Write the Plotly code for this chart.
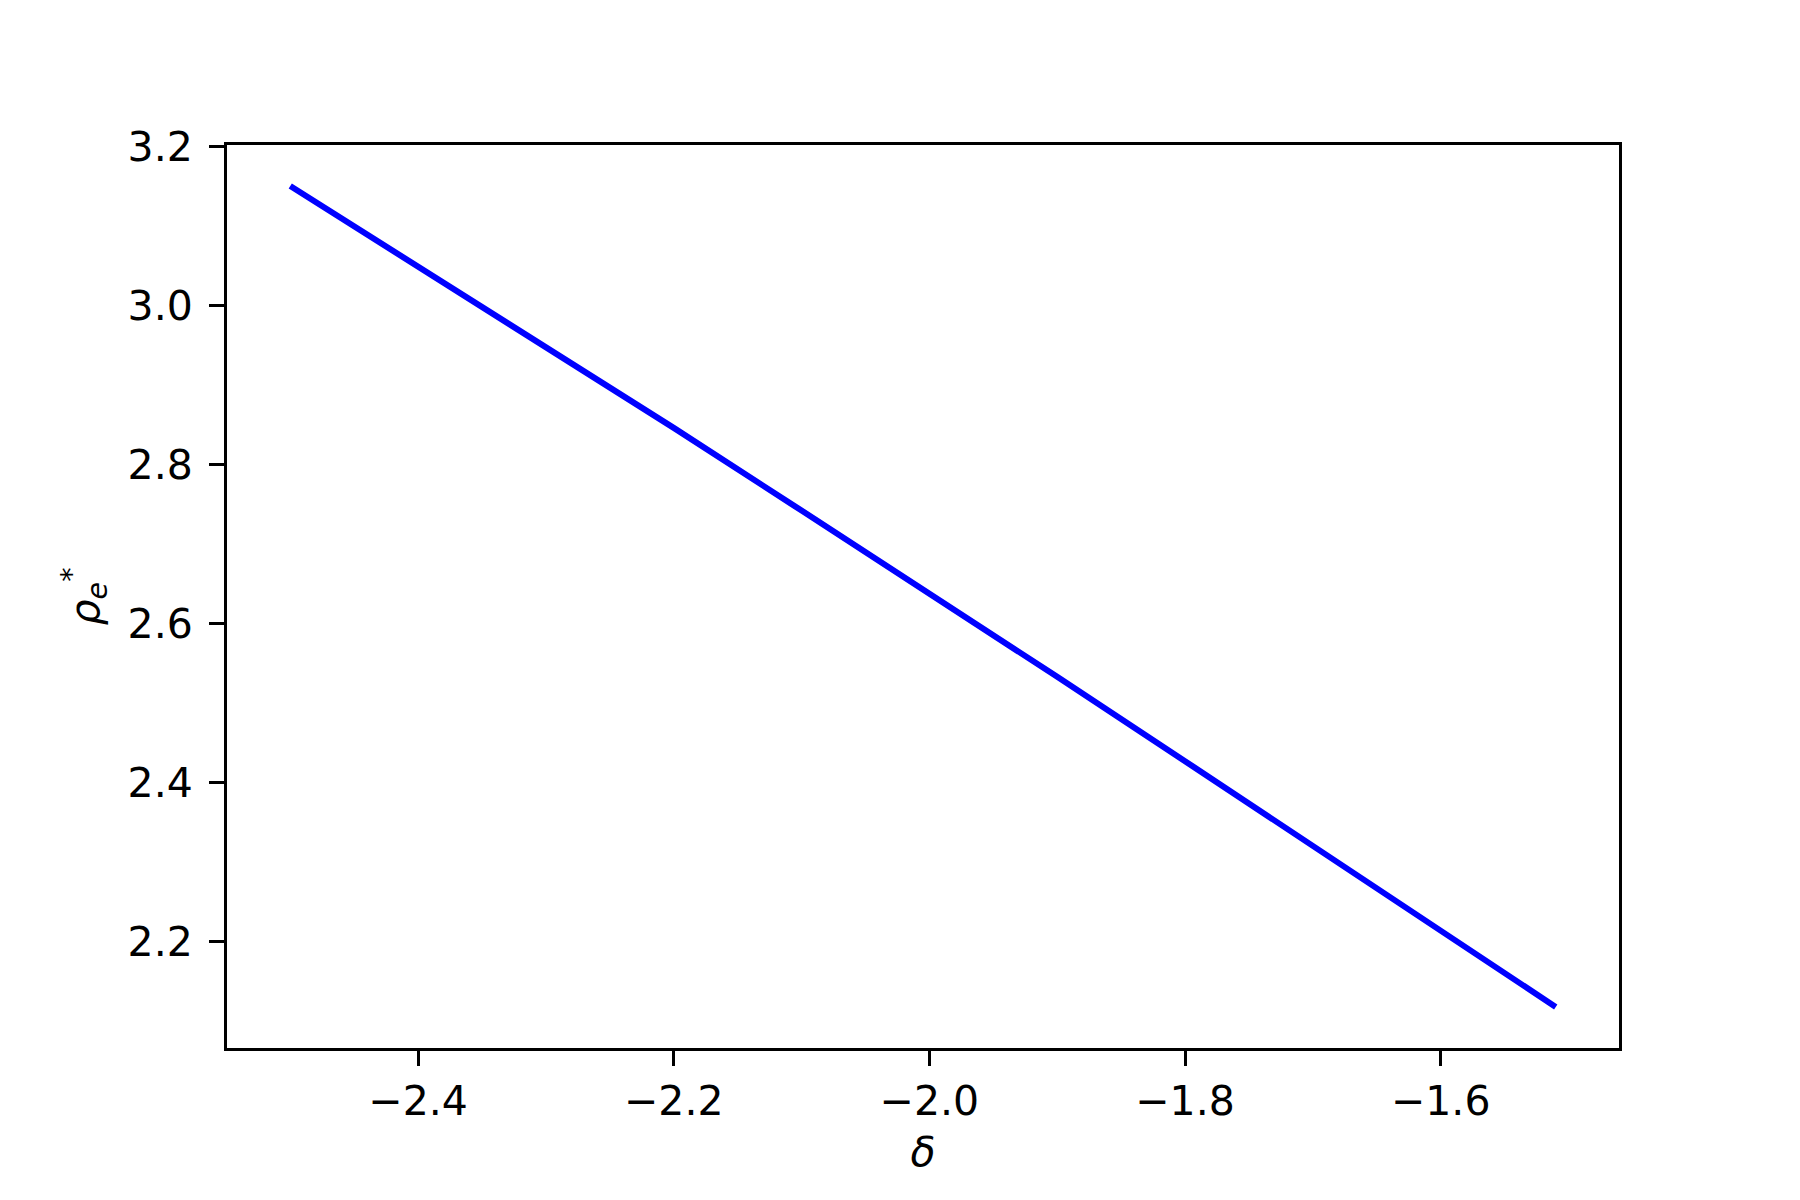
import plotly.graph_objects as go

# delta values and equilibrium rho_e^*
delta = [-2.5, -2.4, -2.3, -2.2, -2.1, -2.0, -1.9, -1.8, -1.7, -1.6, -1.51]
rho_e = [3.150, 3.049, 2.948, 2.846, 2.742, 2.638, 2.533, 2.427, 2.321, 2.214, 2.118]

_FONT = dict(family="DejaVu Sans", size=41, color="black")
_AXIS = dict(
    showgrid=False,
    zeroline=False,
    showline=True,
    linecolor="black",
    linewidth=3,
    mirror=True,
    ticks="outside",
    ticklen=15,
    tickwidth=3,
    tickcolor="black",
    tickfont=_FONT,
    dtick=0.2,
    tick0=0,
)

fig = go.Figure(go.Scatter(
    x=delta,
    y=rho_e,
    mode="lines",
    line=dict(color="#0000ff", width=6),
    showlegend=False,
))

fig.update_layout(
    width=1800,
    height=1200,
    paper_bgcolor="white",
    plot_bgcolor="white",
    font=_FONT,
    margin=dict(l=219, r=189, t=137, b=160),
    xaxis=dict(
        **_AXIS,
        range=[-2.5495, -1.4605],
        tickformat=".1f",
        title=dict(text="<i>δ</i>", font=_FONT, standoff=14),
    ),
    yaxis=dict(
        **_AXIS,
        range=[2.0664, 3.2016],
        tickformat=".1f",
        ticklabelstandoff=8,
        title=dict(text="<i>ρ</i><sub><i>e</i></sub><sup>*</sup>", font=_FONT, standoff=16),
    ),
)

fig.write_html("out.html")
